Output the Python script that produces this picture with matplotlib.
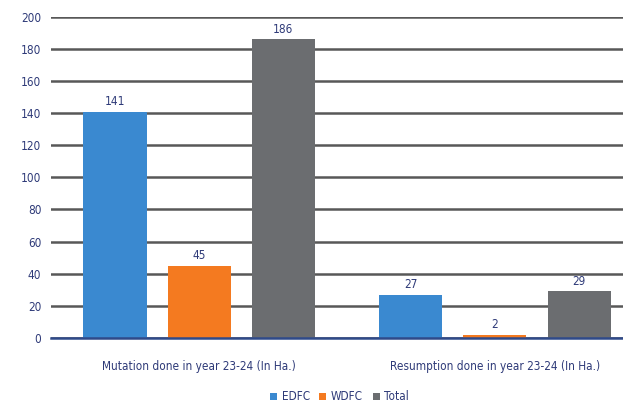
import matplotlib
matplotlib.use("Agg")
import matplotlib.pyplot as plt
import numpy as np

categories = ["Mutation done in year 23-24 (In Ha.)", "Resumption done in year 23-24 (In Ha.)"]
series_names = ["EDFC", "WDFC", "Total"]
edfc = [141, 27]
wdfc = [45, 2]
total = [186, 29]
y_ticks = list(range(0, 201, 20))

plt.rcParams["font.family"] = ["DejaVu Sans"]
plt.rcParams["font.stretch"] = "condensed"

text_col = "#2E3A78"
colors = ["#3A89D0", "#F47A20", "#6B6D70"]

fig = plt.figure(figsize=(6.23, 4.12), dpi=100)
# plot area runs past the right edge of the canvas
ax = fig.add_axes([0.082, 0.18, 0.950, 0.779])

x = np.arange(len(categories))
width = 0.213
offset = 0.284
for i, (vals, col, name) in enumerate(zip([edfc, wdfc, total], colors, series_names)):
    pos = x + (i - 1) * offset
    bars = ax.bar(pos, vals, width, color=col, label=name, zorder=3)
    for b, v in zip(bars, vals):
        ax.text(b.get_x() + b.get_width() / 2, v + 2, str(v), ha="center", va="bottom",
                fontsize=8.5, color=text_col, zorder=4, fontstretch="condensed")

ax.set_xlim(-0.5, 1.5)
ax.set_ylim(0, 200)
ax.set_yticks(y_ticks)
ax.set_xticks(x)
ax.set_xticklabels(categories)
ax.tick_params(axis="both", length=0, labelsize=8.5, labelcolor=text_col)
ax.tick_params(axis="x", pad=16)
ax.tick_params(axis="y", pad=7)
ax.yaxis.grid(True, color="#585858", linewidth=1.8, zorder=0)
ax.set_axisbelow(True)
for s in ["top", "right", "left"]:
    ax.spines[s].set_visible(False)
ax.spines["bottom"].set_color("#2F4A8A")
ax.spines["bottom"].set_linewidth(1.8)
ax.spines["bottom"].set_zorder(5)

fig.legend(loc="lower center", bbox_to_anchor=(0.545, -0.005), ncol=3, frameon=False,
           fontsize=8.5, handlelength=0.6, handleheight=0.6, handletextpad=0.4,
           columnspacing=0.8, labelcolor=text_col)

fig.savefig("out.png", dpi=100)
